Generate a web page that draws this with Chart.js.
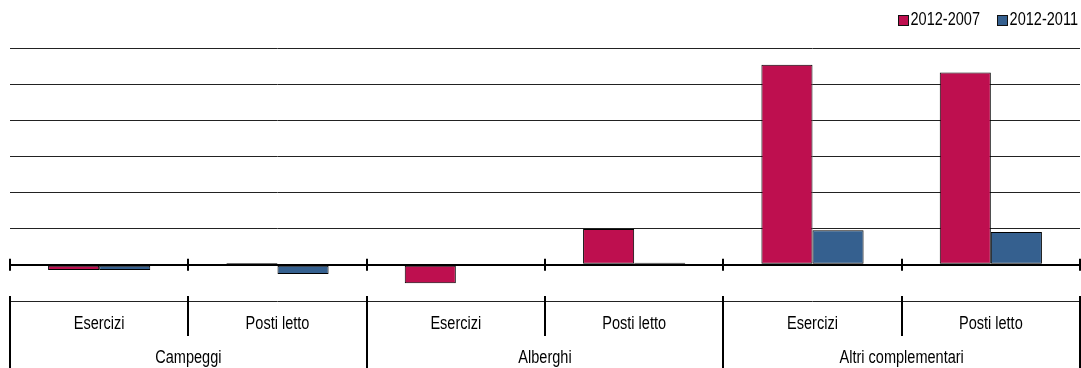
<!DOCTYPE html>
<html>
<head>
<meta charset="utf-8">
<script src="https://cdn.jsdelivr.net/npm/chart.js@4.4.1/dist/chart.umd.min.js"></script>
<style>
  html, body { margin: 0; padding: 0; background: #fff; }
  #wrap { width: 1081px; height: 368px; position: relative; }
</style>
</head>
<body>
<div id="wrap"><canvas id="c" width="1081" height="368"></canvas></div>
<script>
const categories = ['Esercizi', 'Posti letto', 'Esercizi', 'Posti letto', 'Esercizi', 'Posti letto'];
const groups = ['Campeggi', 'Alberghi', 'Altri complementari'];
const seriesNames = ['2012-2007', '2012-2011'];
const values2007 = [-1.4, 0.5, -5.1, 9.9, 55.4, 53.2];
const values2011 = [-1.4, -2.5, 0, 0.6, 9.6, 9.1];
const yMin = -10, yMax = 60, yStep = 10;

const colors = ['#BE0F4F', '#35608F'];

const FONT = "17.5px 'Liberation Sans', Arial, sans-serif";
const NARROW = 0.83; // emulate a narrow face (Arial Narrow proportions)

function narrowText(ctx, text, x, y, align) {
  ctx.save();
  ctx.translate(x, y);
  ctx.scale(NARROW, 1);
  ctx.textAlign = align || 'center';
  ctx.textBaseline = 'middle';
  ctx.fillText(text, 0, 0);
  ctx.restore();
}
function narrowWidth(ctx, text) {
  return ctx.measureText(text).width * NARROW;
}

const decorations = {
  id: 'decorations',
  afterDraw(chart) {
    const ctx = chart.ctx;
    const xs = chart.scales.x;
    const y = chart.scales.y;
    const area = chart.chartArea;
    const n = categories.length;
    const w = (area.right - area.left) / n;
    const y0 = y.getPixelForValue(0);
    ctx.save();
    ctx.strokeStyle = '#000';
    ctx.lineWidth = 2;
    for (let i = 0; i <= n; i++) {
      const px = Math.round(area.left + i * w);
      ctx.beginPath();
      ctx.moveTo(px, y0 - 6);
      ctx.lineTo(px, y0 + 6);
      ctx.stroke();
      ctx.beginPath();
      ctx.moveTo(px, area.bottom - 5);
      ctx.lineTo(px, i % 2 === 0 ? chart.height : area.bottom + 35);
      ctx.stroke();
    }
    // category labels
    ctx.font = FONT;
    ctx.fillStyle = '#000';
    categories.forEach((lab, i) => {
      narrowText(ctx, lab, xs.getPixelForValue(i), area.bottom + 23);
    });
    // group labels
    groups.forEach((g, k) => {
      const cx = (xs.getPixelForValue(2 * k) + xs.getPixelForValue(2 * k + 1)) / 2;
      narrowText(ctx, g, cx, area.bottom + 57);
    });
    // legend (right aligned)
    const ds = chart.data.datasets;
    let right = 1078;
    const boxSize = 11, ly = 20;
    for (let d = ds.length - 1; d >= 0; d--) {
      const tw = narrowWidth(ctx, ds[d].label);
      const tx = right - tw;
      narrowText(ctx, ds[d].label, tx, ly, 'left');
      const bx = Math.round(tx - 2 - boxSize);
      ctx.fillStyle = ds[d].backgroundColor;
      ctx.fillRect(bx, ly - 5, boxSize, boxSize);
      ctx.lineWidth = 1;
      ctx.strokeStyle = '#111';
      ctx.strokeRect(bx + 0.5, ly - 4.5, boxSize - 1, boxSize - 1);
      ctx.fillStyle = '#000';
      right = bx - 17;
    }
    ctx.restore();
  }
};

new Chart(document.getElementById('c'), {
  type: 'bar',
  data: {
    labels: categories,
    datasets: [
      { label: seriesNames[0], data: values2007, backgroundColor: colors[0], borderColor: '#000', borderWidth: 1, borderSkipped: false },
      { label: seriesNames[1], data: values2011, backgroundColor: colors[1], borderColor: '#000', borderWidth: 1, borderSkipped: false }
    ]
  },
  options: {
    responsive: false,
    animation: false,
    layout: { padding: { left: 10, right: 1, top: 48, bottom: 67 } },
    datasets: { bar: { categoryPercentage: 0.573, barPercentage: 1 } },
    plugins: {
      legend: { display: false },
      tooltip: { enabled: false }
    },
    scales: {
      y: {
        min: yMin, max: yMax,
        ticks: { display: false, stepSize: yStep },
        border: { display: false },
        grid: {
          drawTicks: false,
          color: (c) => c.tick && c.tick.value === 0 ? '#000' : '#222',
          lineWidth: (c) => c.tick && c.tick.value === 0 ? 2 : 1
        }
      },
      x: {
        offset: true,
        grid: { display: false, drawTicks: false },
        border: { display: false },
        ticks: { display: false }
      }
    }
  },
  plugins: [decorations]
});
</script>
</body>
</html>
